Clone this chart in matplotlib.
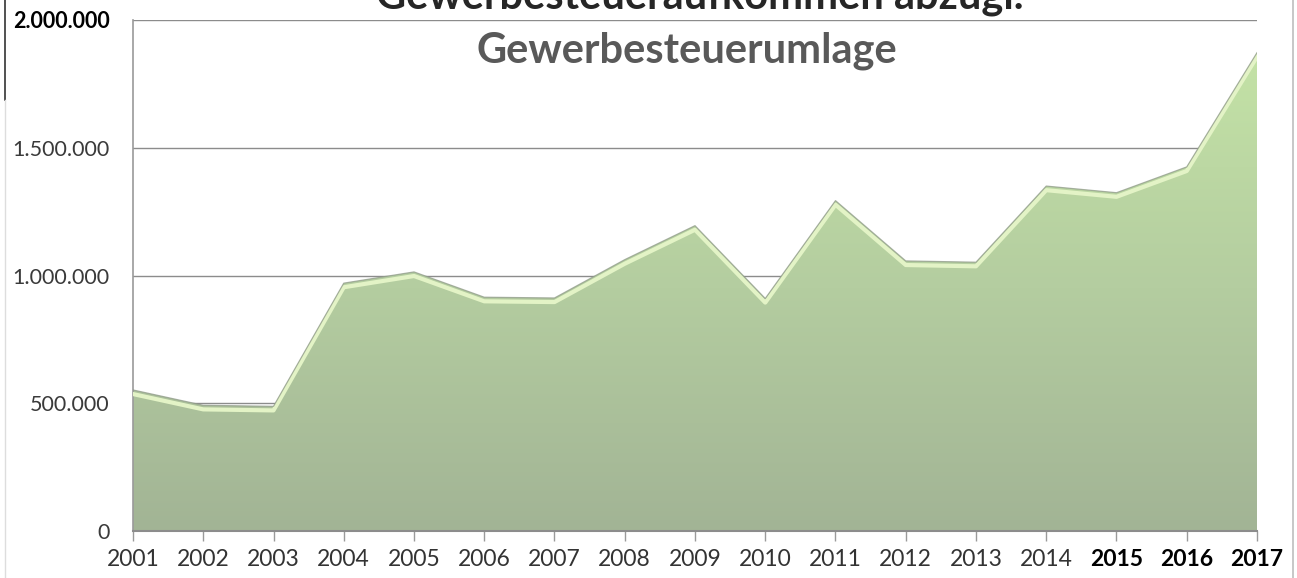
import matplotlib
matplotlib.use("Agg")
import matplotlib.pyplot as plt
import numpy as np
from matplotlib.colors import LinearSegmentedColormap
from matplotlib.lines import Line2D

years = ["2001", "2002", "2003", "2004", "2005", "2006", "2007", "2008", "2009",
         "2010", "2011", "2012", "2013", "2014", "2015", "2016", "2017"]
values = [552000, 492000, 488000, 970000, 1014000, 915000, 912000, 1062000, 1195000,
          910000, 1293000, 1057000, 1052000, 1350000, 1324000, 1425000, 1872000]
bold_years = ["2015", "2016", "2017"]
y_ticks = [0, 500000, 1000000, 1500000, 2000000]
title_line1 = "Gewerbesteueraufkommen abzügl."
title_line2 = "Gewerbesteuerumlage"

def de_fmt(v):
    return f"{v:,.0f}".replace(",", ".")

W, H = 1297, 578
fig = plt.figure(figsize=(W / 100, H / 100), dpi=100)
fig.patch.set_facecolor("white")
ax = fig.add_axes([133 / W, (H - 531) / H, (1257 - 133) / W, (531 - 20) / H])
ax.set_facecolor("white")

x = np.arange(len(years))

# gridlines
for t in y_ticks[1:]:
    ax.axhline(t, color="#8c8c8c", lw=1.0, zorder=1)

# gradient area
poly = ax.fill_between(x, values, 0, color="none", zorder=2)
cmap = LinearSegmentedColormap.from_list("g", ["#a2b495", "#b4cda0", "#c4e3a6"])
grad = np.linspace(0, 1, 256).reshape(-1, 1)
im = ax.imshow(grad, extent=[0, len(years) - 1, 0, 1900000], origin="lower",
               aspect="auto", cmap=cmap, zorder=2)
path = poly.get_paths()[0]
im.set_clip_path(path, transform=ax.transData)
ax.set_ylim(0, 2000000)
ax.set_xlim(0, len(years) - 1)

# bevel highlight and thin outline
ax.plot(x, np.array(values) - 16000, color="#e3f3c6", lw=3.0, zorder=3,
        solid_joinstyle="round")
ax.plot(x, values, color="#8f9a88", lw=0.9, zorder=4, alpha=0.75)

# spines
for s in ["top", "right"]:
    ax.spines[s].set_visible(False)
ax.spines["left"].set_color("#9a9a9a")
ax.spines["left"].set_linewidth(1.2)
ax.spines["bottom"].set_color("#8c8c8c")
ax.spines["bottom"].set_linewidth(1.5)
ax.spines["bottom"].set_zorder(5)

ax.set_yticks(y_ticks)
ax.set_yticklabels([de_fmt(v) for v in y_ticks])
ax.tick_params(axis="y", length=0, pad=17, labelsize=15.5, labelcolor="#3a3a3a")
for lab in ax.get_yticklabels():
    lab.set_fontfamily("Lato")
    if lab.get_text() == "2.000.000":
        lab.set_color("black")
        lab.set_fontweight("bold")

ax.set_xticks(x)
ax.set_xticklabels(years)
ax.tick_params(axis="x", length=7, width=1, color="#9a9a9a", pad=6,
               labelsize=16.5, labelcolor="#333333")
for lab in ax.get_xticklabels():
    lab.set_fontfamily("Lato")
    if lab.get_text() in bold_years:
        lab.set_fontweight("bold")
        lab.set_color("black")

# title (first line partly cut at top, as in the reference)
fig.text(700 / W, 1 - 9 / H, title_line1, ha="center", va="baseline",
         fontsize=30, fontweight="bold", color="#262626", family="Lato")
fig.text(687 / W, 1 - 62 / H, title_line2, ha="center", va="baseline",
         fontsize=30, fontweight="bold", color="#595959", family="Lato")

# outer frame remnants
fig.add_artist(Line2D([5 / W, 5 / W], [1, 1 - 100 / H], transform=fig.transFigure,
                      color="#333333", lw=1.2))
fig.add_artist(Line2D([5 / W, 5 / W], [1 - 100 / H, 0], transform=fig.transFigure,
                      color="#dddddd", lw=1.0))
fig.add_artist(Line2D([1293 / W, 1293 / W], [1, 0], transform=fig.transFigure,
                      color="#bdbdbd", lw=1.2))

fig.savefig("out.png", dpi=100, facecolor="white")
